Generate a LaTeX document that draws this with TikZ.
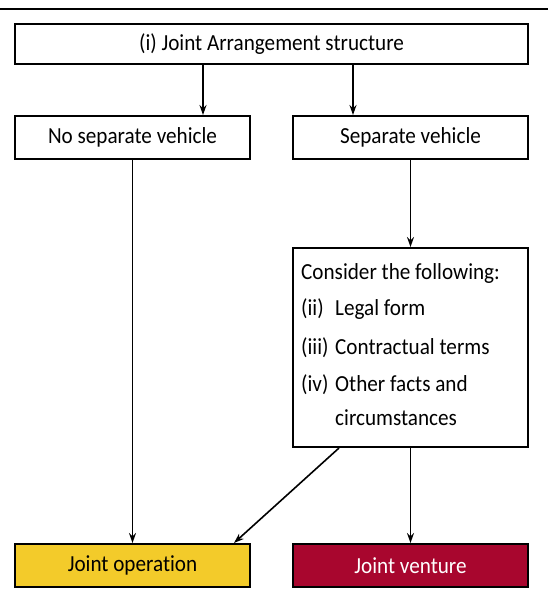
\documentclass[tikz,border=0pt]{standalone}
\usepackage{fontspec}
\setmainfont{Carlito}[FakeStretch=0.92,Ligatures=NoCommon]
\usetikzlibrary{arrows.meta}
\definecolor{joyellow}{RGB}{243,203,42}
\definecolor{jvred}{RGB}{168,6,46}

\begin{document}
\begin{tikzpicture}[x=1pt,y=-1pt,
    box/.style={draw,line width=2pt,inner sep=0pt,minimum width=235pt,minimum height=43pt,
      font=\fontsize{23}{27}\selectfont},
    item/.style={anchor=west,inner sep=0pt,font=\fontsize{23}{27}\selectfont},
    link/.style={line width=1.6pt,-{Stealth[length=10pt,width=7pt]}}]
  \useasboundingbox (0,0) rectangle (548,597);
  \draw[line width=2pt] (0,9) -- (548,9);

  \node[box,minimum width=513pt,minimum height=40pt] (jas) at (271.5,44) {(i) Joint Arrangement structure};
  \node[box] (nosep) at (132.5,137.5) {No separate vehicle};
  \node[box] (sep) at (410.5,137.5) {Separate vehicle};
  \node[box,minimum height=199pt] (cons) at (410.5,347.5) {};
  \node[item] (c1) at (301,273) {Consider the following:};
  \node[item] (c2) at (301,309) {\makebox[34pt][l]{(ii)}Legal form};
  \node[item] (c3) at (301,348) {\makebox[34pt][l]{(iii)}Contractual terms};
  \node[item] (c4) at (301,385) {\makebox[34pt][l]{(iv)}Other facts and};
  \node[item] (c5) at (335,418) {circumstances};
  \node[box,fill=joyellow] (jo) at (132.5,565.5) {Joint operation};
  \node[box,fill=jvred,text=white] (jv) at (410.5,565.5) {Joint venture};

  \draw[link] (203,0 |- jas.south) -- (203,0 |- nosep.north);
  \draw[link] (353,0 |- jas.south) -- (353,0 |- sep.north);
  \draw[link] (sep) -- (cons);
  \draw[link] (nosep) -- (jo);
  \draw[link] (339,0 |- cons.south) -- (234,0 |- jo.north);
  \draw[link] (cons) -- (jv);
\end{tikzpicture}
\end{document}
